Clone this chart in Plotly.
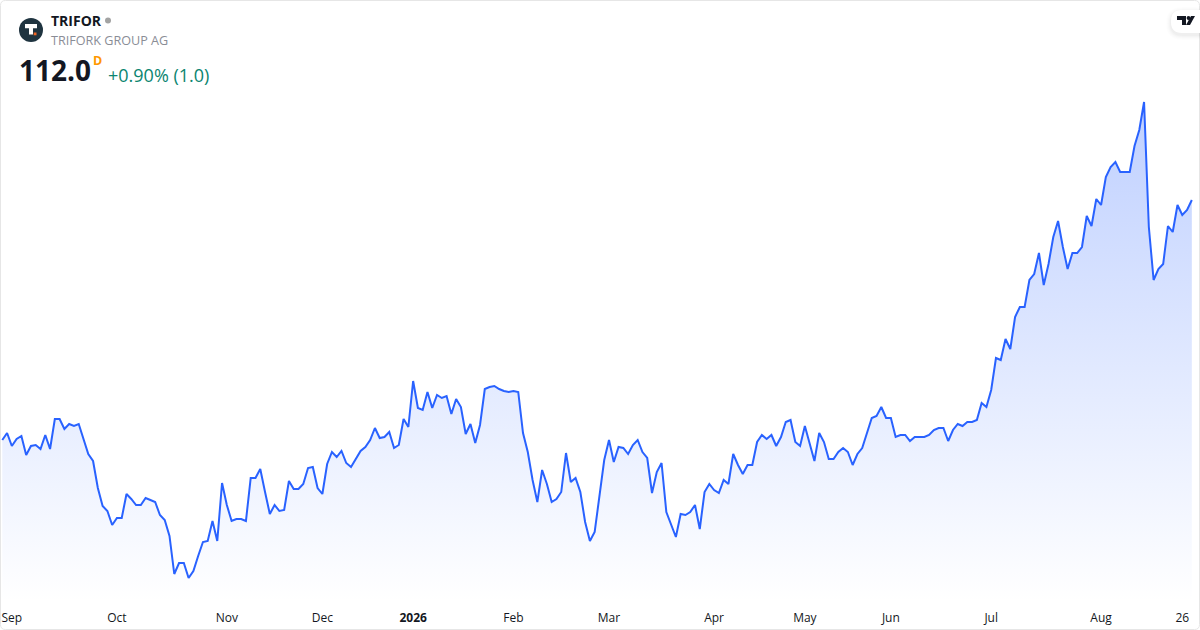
#!/usr/bin/env python
"""TRIFOR daily close as a TradingView-style mini area chart."""
import plotly.graph_objects as go

W, H = 1200, 630

# daily closes, one per trading bar
close = [
    88.0, 88.7, 87.4, 88.1, 88.4, 86.5, 87.4, 87.5, 87.1, 88.5, 87.1, 90.1, 90.1, 89.1, 89.6, 89.4,
    89.6, 88.0, 86.6, 85.9, 83.2, 81.4, 80.9, 79.5, 80.2, 80.2, 82.6, 82.1, 81.5, 81.5, 82.2, 82.0,
    81.8, 80.5, 80.0, 78.4, 74.6, 75.7, 75.7, 74.2, 74.9, 76.4, 77.8, 77.9, 79.9, 77.9, 83.7, 81.5,
    79.9, 80.1, 80.1, 79.9, 84.2, 84.2, 85.1, 82.8, 80.6, 81.5, 80.9, 81.0, 83.9, 83.1, 83.1,
    83.6, 85.2, 85.3, 83.2, 82.6, 85.6, 86.8, 86.3, 86.9, 85.7, 85.3, 86.1, 86.9, 87.3, 88.0, 89.2,
    88.2, 88.3, 88.8, 87.2, 87.5, 90.1, 89.3, 93.9, 91.2, 91.0, 92.8, 91.2, 92.5, 92.2, 92.4, 90.6,
    92.1, 91.3, 88.6, 89.6, 87.7, 89.5, 93.1, 93.3, 93.4, 93.1, 92.9, 92.8, 92.9, 92.8, 88.7, 86.8,
    84.0, 81.8, 85.0, 83.6, 81.8, 82.1, 82.8, 86.7, 83.8, 84.2, 82.8, 79.8, 77.9, 78.8, 82.3,
    86.0, 88.0, 85.8, 87.3, 87.2, 86.6, 87.5, 88.0, 86.8, 86.2, 82.7, 84.8, 85.7, 80.8, 79.5, 78.3,
    80.6, 80.5, 80.8, 81.5, 79.1, 82.8, 83.6, 83.0, 82.7, 84.0, 83.6, 86.6, 85.5, 84.6, 85.5, 85.5,
    87.8, 88.5, 88.1, 88.5, 87.4, 88.3, 89.8, 90.0, 87.8, 87.4, 89.4, 87.7, 85.9, 88.7, 87.8, 86.1,
    86.1, 86.8, 87.2, 86.8, 85.5, 86.6, 87.2, 88.7, 90.2, 90.4, 91.3, 90.2, 90.2, 88.3, 88.5,
    88.5, 87.9, 88.3, 88.3, 88.3, 88.5, 89.0, 89.2, 89.2, 87.9, 89.0, 89.6, 89.4, 89.8, 89.8, 90.0,
    91.7, 91.3, 93.0, 96.2, 96.0, 98.1, 97.1, 100.3, 101.3, 101.3, 104.0, 104.6, 106.7, 103.5, 105.6,
    108.3, 109.9, 107.3, 105.1, 106.7, 106.7, 107.3, 110.4, 109.4, 112.1, 111.5, 114.3, 115.3, 115.8,
    114.8, 114.8, 114.8, 117.4, 119.0, 121.8, 109.3, 104.0, 105.1, 105.6, 109.4, 108.8, 111.5, 110.5,
    111.0, 112.0,
]
bars = list(range(len(close)))

# time scale labels, placed on the bar that opens each period
tick_bars = [2, 24, 47, 67, 86, 107, 127, 149, 168, 186, 207, 230, 247]
tick_labels = ["Sep", "Oct", "Nov", "Dec", "<b>2026</b>", "Feb", "Mar", "Apr", "May", "Jun", "Jul", "Aug", "26"]

symbol = "TRIFOR"
company = "TRIFORK GROUP AG"
last_price = "112.0"
change = "+0.90% (1.0)"

BLUE = "#2962ff"
TEXT = "#131722"
FONT = "Open Sans"


def px(x):
    return x / W


def py(y):
    return 1 - y / H


def path(points, close_path=True):
    """SVG path in paper coordinates, from pixel points."""
    d = "M" + " L".join(f"{px(x):.5f},{py(y):.5f}" for x, y in points)
    return d + (" Z" if close_path else "")


def rounded(x0, y0, x1, y1, r):
    return (f"M{px(x0 + r):.5f},{py(y0):.5f} L{px(x1 - r):.5f},{py(y0):.5f} "
            f"Q{px(x1):.5f},{py(y0):.5f} {px(x1):.5f},{py(y0 + r):.5f} "
            f"L{px(x1):.5f},{py(y1 - r):.5f} Q{px(x1):.5f},{py(y1):.5f} {px(x1 - r):.5f},{py(y1):.5f} "
            f"L{px(x0 + r):.5f},{py(y1):.5f} Q{px(x0):.5f},{py(y1):.5f} {px(x0):.5f},{py(y1 - r):.5f} "
            f"L{px(x0):.5f},{py(y0 + r):.5f} Q{px(x0):.5f},{py(y0):.5f} {px(x0 + r):.5f},{py(y0):.5f} Z")


def circle(cx, cy, r, color):
    return dict(type="circle", xref="paper", yref="paper", x0=px(cx - r), x1=px(cx + r),
                y0=py(cy + r), y1=py(cy - r), fillcolor=color, line=dict(width=0))


def poly(points, color):
    return dict(type="path", xref="paper", yref="paper", path=path(points),
                fillcolor=color, line=dict(width=0))


def label(x, y, text, size, color, bold=False):
    return dict(xref="paper", yref="paper", x=px(x), y=py(y), xanchor="left", yanchor="middle",
                text=f"<b>{text}</b>" if bold else text, showarrow=False, borderpad=0,
                font=dict(family=FONT, size=size, color=color))


# y range is what puts the 1.0-point move at about ten pixels
y_top, y_bottom = 131.9, 71.8

fig = go.Figure(go.Scatter(
    x=bars, y=close, mode="lines", line=dict(color=BLUE, width=2), fill="tozeroy",
    fillgradient=dict(type="vertical", start=121.8, stop=y_bottom,
                      colorscale=[[0, "rgba(41,98,255,0.30)"], [1, "rgba(41,98,255,0.0)"]]),
    hovertemplate="%{y:.1f}<extra></extra>"))

shapes = [
    dict(type="path", xref="paper", yref="paper", path=rounded(0.5, 0.5, 1199.5, 629.5, 5),
         line=dict(color="#e6e6e6", width=1), fillcolor="rgba(0,0,0,0)"),
    circle(31, 30, 12, "#1f3440"),
    poly([(25, 24), (37, 24), (37, 28.3), (33, 28.3), (33, 34.5), (29, 34.5), (29, 28.3), (25, 28.3)], "white"),
    poly([(33.7, 32.5), (36.5, 32.5), (36.5, 35.3), (33.7, 35.3)], "#f26522"),
    circle(108, 20.5, 3, "#a3a3a3"),
]
# badge with a soft shadow at the top right corner
for grow, alpha in [(5, 0.006), (4, 0.008), (3, 0.01), (2, 0.014), (1, 0.018)]:
    shapes.append(dict(type="path", xref="paper", yref="paper",
                       path=rounded(1171 - grow, 10 - grow + 2, 1212, 33 + grow + 2, 11 + grow),
                       fillcolor=f"rgba(0,0,0,{alpha})", line=dict(width=0)))
shapes += [
    dict(type="path", xref="paper", yref="paper", path=rounded(1171, 10, 1212, 33, 11),
         fillcolor="white", line=dict(width=0)),
    poly([(1177, 16), (1186, 16), (1186, 25), (1182, 25), (1182, 20), (1177, 20)], "#131722"),
    circle(1188.5, 18, 1.9, "#131722"),
    poly([(1191, 16), (1195, 16), (1190, 25), (1186, 25)], "#131722"),
]

fig.update_layout(
    width=W, height=H, margin=dict(l=0, r=0, t=0, b=0), showlegend=False,
    paper_bgcolor="white", plot_bgcolor="white",
    xaxis=dict(domain=[px(1), px(1199)], range=[-0.27, 250.5], tickmode="array",
               tickvals=tick_bars, ticktext=tick_labels, showgrid=False, zeroline=False,
               showline=False, ticks="", ticklabelstandoff=7,
               tickfont=dict(family=FONT, size=12, color=TEXT)),
    yaxis=dict(domain=[py(602), py(1)], range=[y_bottom, y_top], visible=False, showgrid=False),
    shapes=shapes,
    annotations=[
        label(50, 21, symbol, 14, TEXT, bold=True),
        label(50, 40, company, 12.6, "#8a8d96"),
        label(18, 70, last_price, 28, TEXT, bold=True),
        label(91.5, 61, "D", 12.5, "#ff9800", bold=True),
        label(107, 75, change, 18, "#0b8570"),
    ],
)

fig.write_html("out.html", config=dict(displayModeBar=False),
               post_script="document.body.style.margin='0';")
